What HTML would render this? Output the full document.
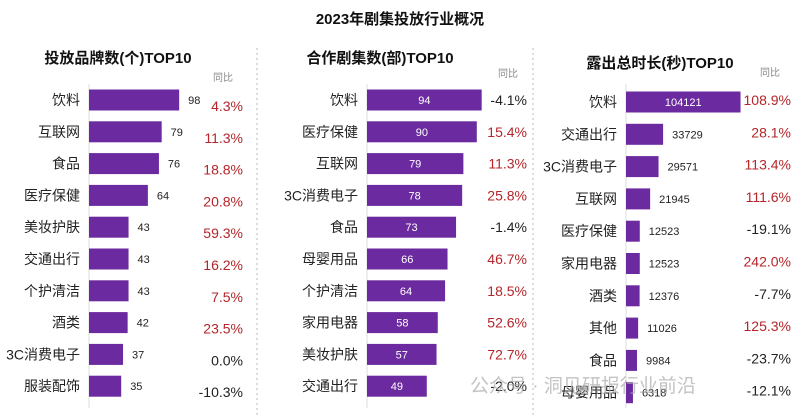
<!DOCTYPE html>
<html><head><meta charset="utf-8">
<style>
body{margin:0;background:#fff;font-family:"Liberation Sans","Noto Sans CJK SC",sans-serif;}
#c{width:795px;height:415px;position:relative;overflow:hidden;}
</style></head>
<body>
<div id="c">
<svg id="s" width="795" height="415"></svg>
</div>
<script>
const cats1=["饮料","互联网","食品","医疗保健","美妆护肤","交通出行","个护清洁","酒类","3C消费电子","服装配饰"];
const vals1=[98,79,76,64,43,43,43,42,37,35];
const pct1=["4.3%","11.3%","18.8%","20.8%","59.3%","16.2%","7.5%","23.5%","0.0%","-10.3%"];
const cats2=["饮料","医疗保健","互联网","3C消费电子","食品","母婴用品","个护清洁","家用电器","美妆护肤","交通出行"];
const vals2=[94,90,79,78,73,66,64,58,57,49];
const pct2=["-4.1%","15.4%","11.3%","25.8%","-1.4%","46.7%","18.5%","52.6%","72.7%","-2.0%"];
const cats3=["饮料","交通出行","3C消费电子","互联网","医疗保健","家用电器","酒类","其他","食品","母婴用品"];
const vals3=[104121,33729,29571,21945,12523,12523,12376,11026,9984,6318];
const pct3=["108.9%","28.1%","113.4%","111.6%","-19.1%","242.0%","-7.7%","125.3%","-23.7%","-12.1%"];

const svg=document.getElementById('s');
const NS="http://www.w3.org/2000/svg";
function mk(t,a,txt){const e=document.createElementNS(NS,t);for(const k in a)e.setAttribute(k,a[k]);if(txt!==undefined)e.textContent=txt;svg.appendChild(e);return e;}
const BH=21;
let t=mk('text',{x:400,y:24,'text-anchor':'middle','font-size':15,'font-weight':'bold',fill:'#111'},'2023年剧集投放行业概况');


[257,533].forEach(x=>{const l=mk('line',{x1:x,y1:48,x2:x,y2:415,stroke:'#bbb','stroke-dasharray':'2,3'});

});

function panel(cfg){
  const rowY=i=>cfg.y0+i*cfg.dy;
  let h=mk('text',{x:cfg.tx,y:cfg.ty,'text-anchor':'middle','font-size':15,'font-weight':'bold',fill:'#111'},cfg.title);
  
  
  let g=mk('text',{x:cfg.hx,y:cfg.hy,'text-anchor':'middle','font-size':10,fill:'#888'},'同比');
  
  
  let ax=mk('line',{x1:cfg.ax,y1:84,x2:cfg.ax,y2:408,stroke:'#ddd'});
  
  
  cfg.cats.forEach((c,i)=>{
    const y=rowY(i);const w=cfg.scale(cfg.vals[i]);
    let l=mk('text',{x:cfg.ax-9,y:y+5,'text-anchor':'end','font-size':14,fill:'#222'},c);
    
    
    let b=mk('rect',{x:cfg.ax,y:y-BH/2,width:w,height:BH,fill:'#6b2aa0'});
    
    
    const inside=cfg.inside(cfg.vals[i]);
    let v=mk('text',{x:inside?cfg.ax+w/2:cfg.ax+w+9,y:y+4,'text-anchor':inside?'middle':'start','font-size':11,fill:inside?'#fff':'#222'},String(cfg.vals[i]));
    
    
    const neg=cfg.pct[i][0]==='-'||cfg.pct[i]==='0.0%';
    let p=mk('text',{x:cfg.px,y:y+cfg.off,'text-anchor':'end','font-size':14,fill:neg?'#222':'#b5252a'},cfg.pct[i]);
    
    
  });
}
panel({title:'投放品牌数(个)TOP10',tx:118,ty:63,hx:223,hy:81,ax:89,px:243,y0:100,dy:31.8,cats:cats1,vals:vals1,pct:pct1,scale:v=>v*0.92,inside:v=>false,off:11});
panel({title:'合作剧集数(部)TOP10',tx:380,ty:63,hx:508,hy:77,ax:367,px:527,y0:100,dy:31.8,cats:cats2,vals:vals2,pct:pct2,scale:v=>v*1.22,inside:v=>true,off:5});
panel({title:'露出总时长(秒)TOP10',tx:660,ty:68,hx:770,hy:76,ax:626,px:791,y0:102,dy:32.3,cats:cats3,vals:vals3,pct:pct3,scale:v=>v*0.0011,inside:v=>v>50000,off:3});
let wm=mk('text',{x:470,y:392,'font-size':19,fill:'#aaa','fill-opacity':0.7},'公众号 · 洞见研报行业前沿');


</script>
</body></html>
